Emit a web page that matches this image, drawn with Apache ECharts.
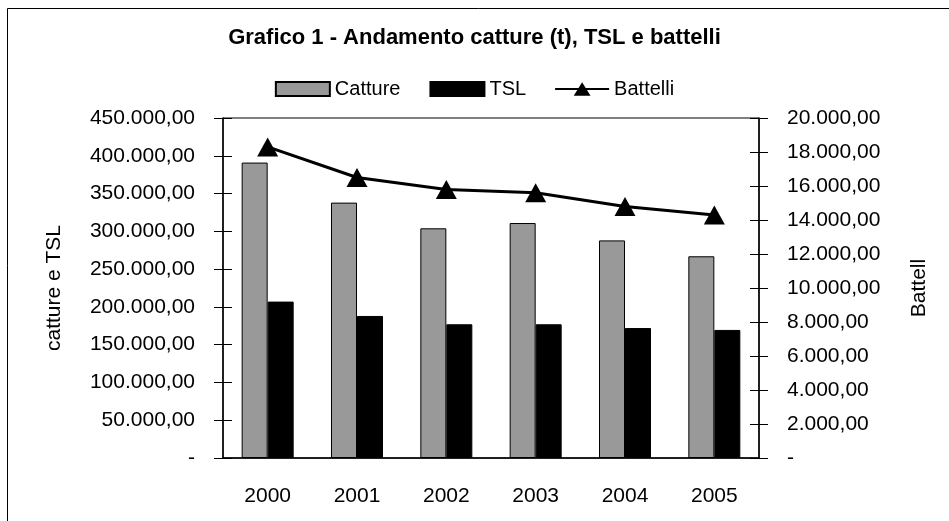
<!DOCTYPE html>
<html>
<head>
<meta charset="utf-8">
<script src="https://cdn.jsdelivr.net/npm/echarts@6/dist/echarts.min.js"></script>
<style>
  html, body { margin: 0; padding: 0; background: #fff; }
  #chart { width: 949px; height: 521px; }
</style>
</head>
<body>
<div id="chart"></div>
<script>
// dati
const anni = ['2000', '2001', '2002', '2003', '2004', '2005'];
const catture = [391000, 338000, 304000, 311000, 288000, 267000];
const tsl = [207000, 188000, 177000, 177000, 172000, 169500];
const battelli = [18300, 16500, 15800, 15600, 14800, 14300];

const FONT = '"Liberation Sans Narrow", "Liberation Sans", Arial, sans-serif';

// formato italiano: 450.000,00 e "-" per lo zero
function fmt(v) {
  if (v === 0) return '-';
  const parts = v.toFixed(2).split('.');
  return parts[0].replace(/\B(?=(\d{3})+(?!\d))/g, '.') + ',' + parts[1];
}

const chart = echarts.init(document.getElementById('chart'));

const yLeft = { type: 'value', min: 0, max: 450000, interval: 50000, position: 'left' };
const yRight = { type: 'value', min: 0, max: 20000, interval: 2000, position: 'right' };

chart.setOption({
  animation: false,
  textStyle: { fontFamily: FONT },
  graphic: [{
    type: 'rect',
    shape: { x: 7.5, y: 8.5, width: 960, height: 530 },
    style: { fill: 'none', stroke: '#000', lineWidth: 1 },
    silent: true
  }],
  title: {
    text: 'Grafico 1 - Andamento catture (t), TSL e battelli',
    left: 'center',
    top: 22,
    textStyle: { fontFamily: FONT, fontSize: 22, fontWeight: 'bold', color: '#000' }
  },
  legend: {
    top: 74,
    left: 'center',
    itemWidth: 54,
    itemHeight: 14,
    itemGap: 29,
    textStyle: { fontFamily: FONT, fontSize: 20, color: '#000' },
    data: [
      { name: 'Catture', icon: 'rect' },
      { name: 'TSL', icon: 'rect' },
      // linea con triangolo come nel riferimento
      { name: 'Battelli', icon: 'path://M0,6.5L61,6.5L61,8.5L0,8.5Z M30.5,0L40,15L21,15Z' }
    ]
  },
  grid: {
    left: 223, right: 190, top: 118, bottom: 63,
    show: true, borderColor: '#000', borderWidth: 1, backgroundColor: '#fff'
  },
  xAxis: [{
    type: 'category',
    data: anni,
    axisLine: { lineStyle: { color: '#000', width: 1.5 } },
    axisTick: { length: 8, lineStyle: { color: '#000' } },
    axisLabel: { color: '#000', fontSize: 21, margin: 28, fontFamily: FONT }
  }, {
    type: 'category',
    data: anni,
    position: 'bottom',
    axisLine: { show: false },
    axisTick: { inside: true, length: 8, lineStyle: { color: '#000' } },
    axisLabel: { show: false }
  }],
  yAxis: [
    Object.assign({}, yLeft, {
      name: 'catture e TSL',
      nameLocation: 'middle',
      nameGap: 158,
      nameRotate: 90,
      nameTextStyle: { color: '#000', fontSize: 21, fontFamily: FONT },
      axisLine: { show: true, lineStyle: { color: '#000', width: 1.5 } },
      axisTick: { show: true, length: 9, lineStyle: { color: '#000' } },
      axisLabel: { color: '#000', fontSize: 21, margin: 28, formatter: fmt, fontFamily: FONT },
      splitLine: { show: false }
    }),
    Object.assign({}, yRight, {
      name: 'Battell',
      nameLocation: 'middle',
      nameGap: 150,
      nameRotate: 90,
      nameTextStyle: { color: '#000', fontSize: 21, fontFamily: FONT },
      axisLine: { show: true, lineStyle: { color: '#000', width: 1.5 } },
      axisTick: { show: true, length: 9, lineStyle: { color: '#000' } },
      axisLabel: { color: '#000', fontSize: 21, margin: 28, formatter: fmt, fontFamily: FONT },
      splitLine: { show: false }
    }),
    Object.assign({}, yLeft, {
      axisLine: { show: false },
      axisTick: { show: true, inside: true, length: 9, lineStyle: { color: '#000' } },
      axisLabel: { show: false },
      splitLine: { show: false }
    }),
    Object.assign({}, yRight, {
      axisLine: { show: false },
      axisTick: { show: true, inside: true, length: 9, lineStyle: { color: '#000' } },
      axisLabel: { show: false },
      splitLine: { show: false }
    })
  ],
  series: [{
    name: 'Catture',
    type: 'bar',
    yAxisIndex: 0,
    barWidth: 26,
    barGap: '0%',
    itemStyle: { color: '#999999', borderColor: '#000', borderWidth: 1 },
    data: catture
  }, {
    name: 'TSL',
    type: 'bar',
    yAxisIndex: 0,
    barWidth: 26,
    barGap: '0%',
    itemStyle: { color: '#000', borderColor: '#000', borderWidth: 1 },
    data: tsl
  }, {
    name: 'Battelli',
    type: 'line',
    yAxisIndex: 1,
    symbol: 'triangle',
    symbolSize: [21, 19],
    lineStyle: { color: '#000', width: 3 },
    itemStyle: { color: '#000' },
    data: battelli
  }]
});
</script>
</body>
</html>
